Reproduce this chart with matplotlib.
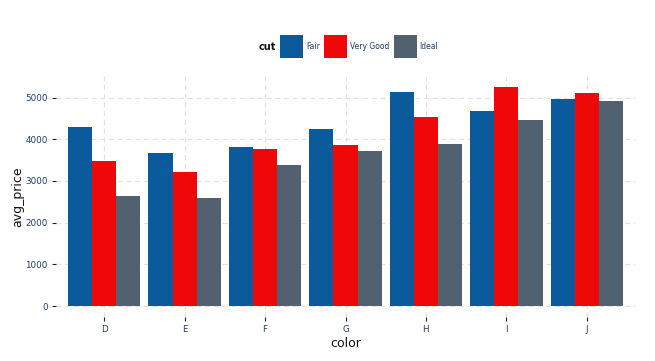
import matplotlib
matplotlib.use("Agg")
import matplotlib.pyplot as plt
import numpy as np
from matplotlib.patches import Rectangle

# average price by colour and cut
COLORS = ["D", "E", "F", "G", "H", "I", "J"]
CUTS = ["Fair", "Very Good", "Ideal"]
AVG_PRICE = {
    "Fair":      [4291, 3682, 3827, 4239, 5136, 4685, 4976],
    "Very Good": [3470, 3215, 3779, 3873, 4535, 5256, 5104],
    "Ideal":     [2629, 2598, 3375, 3721, 3889, 4452, 4918],
}
Y_TICKS = [0, 1000, 2000, 3000, 4000, 5000]

FILL = {"Fair": "#0a5a9c", "Very Good": "#ee0808", "Ideal": "#52616f"}
TICK_COLOR = "#1f3a6e"
GRID_COLOR = "#e2e2e2"

W, H = 655, 361
fig = plt.figure(figsize=(W / 100, H / 100), dpi=100)
fig.patch.set_facecolor("white")

# panel in pixel coords
px_l, px_r, px_t, px_b = 56, 635, 76, 317
ax = fig.add_axes([px_l / W, 1 - px_b / H, (px_r - px_l) / W, (px_b - px_t) / H])

x = np.arange(len(COLORS))
bw = 0.9 / len(CUTS)
for i, cut in enumerate(CUTS):
    ax.bar(x + (i - 1) * bw, AVG_PRICE[cut], width=bw, color=FILL[cut],
           linewidth=0, zorder=3)

ymax = max(max(v) for v in AVG_PRICE.values())
ax.set_ylim(-0.05 * ymax, 1.05 * ymax)
ax.set_xlim(-0.6, len(COLORS) - 0.4)
ax.set_xticks(x)
ax.set_xticklabels(COLORS)
ax.set_yticks(Y_TICKS)
ax.set_yticklabels([str(t) for t in Y_TICKS])

ax.grid(True, color=GRID_COLOR, linestyle=(0, (4, 3)), linewidth=0.9, zorder=0)
for s in ax.spines.values():
    s.set_visible(False)
ax.tick_params(axis="both", colors="#222222", labelcolor=TICK_COLOR,
               labelsize=6.3, length=3, width=0.8, pad=3)

ax.set_xlabel("color", fontsize=9, color="#111111", labelpad=2)
ax.set_ylabel("avg_price", fontsize=9, color="#111111", labelpad=1)

# legend on top, horizontal, title to the left
renderer = fig.canvas.get_renderer()
leg_y = 46.5
key = 23
cx = 259
t = fig.text(cx / W, 1 - leg_y / H, "cut", fontsize=7, fontweight="bold",
             ha="left", va="center", color="#111111")
cx += t.get_window_extent(renderer).width + 4
for cut in CUTS:
    fig.patches.append(Rectangle((cx / W, 1 - (leg_y + key / 2) / H), key / W, key / H,
                                 transform=fig.transFigure, facecolor=FILL[cut],
                                 edgecolor="none"))
    cx += key + 3
    t = fig.text(cx / W, 1 - leg_y / H, cut, fontsize=5.5, ha="left", va="center",
                 color=TICK_COLOR)
    cx += t.get_window_extent(renderer).width + 4

fig.savefig("out.png", dpi=100)
